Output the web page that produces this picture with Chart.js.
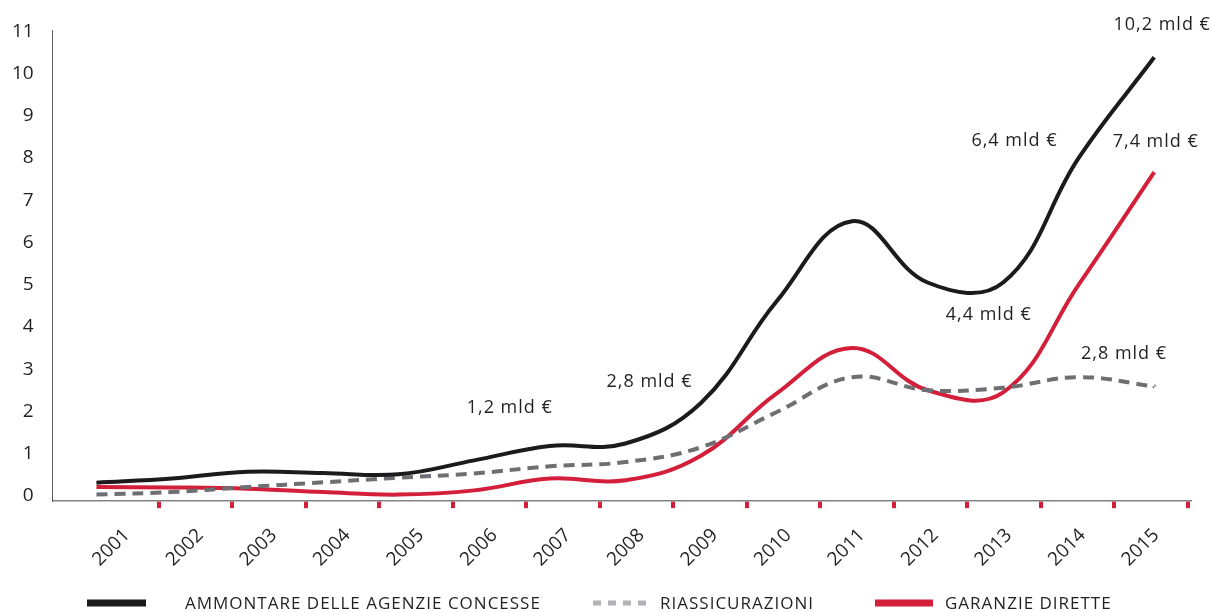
<!DOCTYPE html>
<html>
<head>
<meta charset="utf-8">
<script src="https://cdn.jsdelivr.net/npm/chart.js@4.4.1/dist/chart.umd.min.js"></script>
<style>
html,body{margin:0;padding:0;background:#fff;}
#wrap{width:1213px;height:612px;position:relative;}
canvas{display:block;}
</style>
</head>
<body>
<div id="wrap"><canvas id="c" width="1213" height="612"></canvas></div>
<script>
// ---- data ----
const years = ['2001','2002','2003','2004','2005','2006','2007','2008','2009','2010','2011','2012','2013','2014','2015'];
const ammontare = [0.31, 0.41, 0.57, 0.54, 0.51, 0.84, 1.18, 1.24, 2.2, 4.6, 6.5, 5.05, 5.05, 8.0, 10.38];
const riassicurazioni = [0.03, 0.09, 0.21, 0.32, 0.43, 0.53, 0.70, 0.80, 1.15, 1.98, 2.81, 2.50, 2.56, 2.81, 2.59];
const garanzie = [0.21, 0.20, 0.17, 0.09, 0.03, 0.13, 0.41, 0.37, 0.95, 2.42, 3.5, 2.50, 2.45, 5.0, 7.66];
const yTicks = [0,1,2,3,4,5,6,7,8,9,10,11];
const seriesNames = ['AMMONTARE DELLE AGENZIE CONCESSE', 'RIASSICURAZIONI', 'GARANZIE DIRETTE'];
const noteTexts = ['1,2 mld €', '2,8 mld €', '4,4 mld €', '6,4 mld €', '10,2 mld €', '7,4 mld €', '2,8 mld €'];

// ---- styles ----
const BLACK = '#1c1a1b';
const GREY = '#6e6f72';
const GREY_LEG = '#b2b2b6';
const RED = '#d41f3b';
const TEXT = '#231f20';
const FONT = '"Open Sans", "Noto Sans", sans-serif';

const toPts = arr => arr.map((v, i) => ({x: i, y: v}));

const overlay = {
  id: 'overlay',
  afterDraw(chart, args, opts) {
    const ctx = chart.ctx;
    const xs = chart.scales.xd, ys = chart.scales.y;
    ctx.save();
    ctx.letterSpacing = '1px';
    ctx.fillStyle = TEXT;
    ctx.textAlign = 'left';
    ctx.textBaseline = 'middle';
    ctx.font = '18px ' + FONT;
    opts.notes.forEach((n, i) => {
      ctx.fillText(noteTexts[i], xs.getPixelForValue(n.x), ys.getPixelForValue(n.y));
    });
    // legend
    const L = opts.legend;
    ctx.font = '17px ' + FONT;
    L.items.forEach((it, i) => {
      if (it.dash) {
        ctx.strokeStyle = it.color;
        ctx.lineWidth = it.h;
        ctx.setLineDash(it.dash);
        ctx.beginPath();
        ctx.moveTo(it.x0, L.y);
        ctx.lineTo(it.x1, L.y);
        ctx.stroke();
        ctx.setLineDash([]);
      } else {
        ctx.fillStyle = it.color;
        ctx.fillRect(it.x0, L.y - it.h / 2, it.x1 - it.x0, it.h);
      }
      ctx.fillStyle = TEXT;
      ctx.fillText(seriesNames[i], it.tx, L.y + 1);
    });
    ctx.restore();
  }
};

new Chart(document.getElementById('c'), {
  type: 'line',
  data: {
    datasets: [
      {label: seriesNames[0], data: toPts(ammontare), xAxisID: 'xd', yAxisID: 'y',
       borderColor: BLACK, borderWidth: 4, pointRadius: 0, tension: 0.4, fill: false},
      {label: seriesNames[1], data: toPts(riassicurazioni), xAxisID: 'xd', yAxisID: 'y',
       borderColor: GREY, borderWidth: 4, borderDash: [11, 7], pointRadius: 0, tension: 0.4, fill: false},
      {label: seriesNames[2], data: toPts(garanzie), xAxisID: 'xd', yAxisID: 'y',
       borderColor: RED, borderWidth: 4, pointRadius: 0, tension: 0.4, fill: false}
    ]
  },
  options: {
    responsive: false,
    animation: false,
    devicePixelRatio: 1,
    layout: {padding: {left: 12, right: 23, top: 29, bottom: 41}},
    plugins: {
      legend: {display: false},
      tooltip: {enabled: false},
      overlay: {
        notes: [
          {x: 4.90, y: 2.09}, {x: 6.75, y: 2.69}, {x: 11.24, y: 4.29}, {x: 11.58, y: 8.40},
          {x: 13.46, y: 11.15}, {x: 13.45, y: 8.38}, {x: 13.03, y: 3.36}
        ],
        legend: {
          y: 603,
          items: [
            {x0: 87, x1: 146, h: 7, color: BLACK, tx: 185},
            {x0: 593, x1: 647, h: 5, color: GREY_LEG, dash: [8, 7], tx: 660},
            {x0: 875, x1: 933, h: 7, color: RED, tx: 945}
          ]
        }
      }
    },
    scales: {
      xd: {type: 'linear', position: 'bottom', display: false, min: -0.5785, max: 14.473},
      x: {
        type: 'linear', position: 'bottom', min: -1.442, max: 14.027,
        afterBuildTicks: s => { s.ticks = years.map((_, i) => ({value: i})); },
        afterFit: s => { s.paddingLeft = 0; s.paddingRight = 0; s.height -= s.options.ticks.padding; },
        ticks: {autoSkip: false, minRotation: 45, maxRotation: 45, labelOffset: -32, padding: 16,
                font: {family: FONT, size: 19}, color: TEXT,
                callback: v => years[v]},
        grid: {display: true, drawOnChartArea: false, drawTicks: true, tickLength: 7, color: RED, lineWidth: 4},
        border: {display: true, color: '#838383', width: 1.5}
      },
      y: {
        type: 'linear', min: -0.125, max: 11.017,
        afterBuildTicks: s => { s.ticks = yTicks.map(v => ({value: v})); },
        afterFit: s => { s.width -= s.options.ticks.padding; },
        ticks: {padding: 19, font: {family: FONT, size: 19}, color: TEXT},
        grid: {display: false, drawTicks: false},
        border: {display: true, color: '#5c5c5c', width: 1}
      }
    }
  },
  plugins: [overlay]
});
</script>
</body>
</html>
